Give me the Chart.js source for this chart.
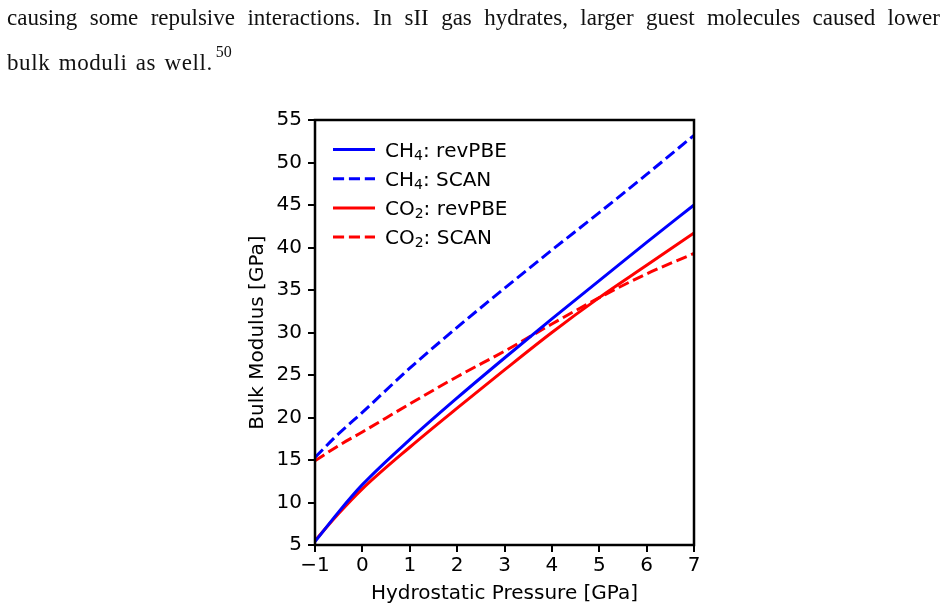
<!DOCTYPE html>
<html>
<head>
<meta charset="utf-8">
<script src="https://cdn.jsdelivr.net/npm/chart.js@4"></script>
<style>
  html, body { margin: 0; padding: 0; background: #fff; }
  body { width: 947px; height: 612px; position: relative; overflow: hidden; }
  #c { position: absolute; left: 0; top: 0; }
  .txt { position: absolute; font-family: "Liberation Serif", "DejaVu Serif", serif; font-size: 23px; line-height: 1; color: #111; white-space: nowrap; }
  #l1 { left: 7px; top: 6px; width: 933px; white-space: normal; text-align: justify; text-align-last: justify; }
  #l2 { left: 7px; top: 48px; letter-spacing: 0.6px; word-spacing: 2px; }
  #l2 sup { font-size: 16px; position: relative; top: -4px; left: 3px; letter-spacing: 0; }
</style>
</head>
<body>
<canvas id="c" width="947" height="612"></canvas>
<div class="txt" id="l1">causing some repulsive interactions. In sII gas hydrates, larger guest molecules caused lower</div>
<div class="txt" id="l2">bulk moduli as well.<sup>50</sup></div>
<script>
/* Bulk modulus vs hydrostatic pressure — CH4 / CO2 hydrates */
const pressure   = [-1, -0.5, 0, 1, 2, 3, 4, 5, 6, 7];          // GPa
const ch4RevPBE  = [5.4, 8.9, 12.1, 17.4, 22.3, 27.0, 31.6, 36.1, 40.6, 45.0];
const ch4SCAN    = [15.3, 18.1, 20.6, 25.8, 30.6, 35.2, 39.7, 44.1, 48.6, 53.2];
const co2RevPBE  = [5.5, 8.7, 11.6, 16.5, 21.1, 25.6, 30.0, 34.1, 37.9, 41.7];
const co2SCAN    = [14.9, 16.7, 18.3, 21.6, 24.8, 27.8, 31.0, 34.1, 36.9, 39.3];
const seriesLabels = ["CH₄: revPBE", "CH₄: SCAN", "CO₂: revPBE", "CO₂: SCAN"];
const xTitle = "Hydrostatic Pressure [GPa]";
const yTitle = "Bulk Modulus [GPa]";

const FONT = "DejaVu Sans";
const pts = ys => pressure.map((x, i) => ({ x, y: ys[i] }));

function ds(label, ys, color, dashed) {
  return {
    label, data: pts(ys),
    borderColor: color, backgroundColor: color,
    borderWidth: 3, borderDash: dashed ? [11.1, 4.8] : [],
    pointRadius: 0, cubicInterpolationMode: "monotone", fill: false,
  };
}

/* ── frame + matplotlib-ish legend ── */
const framePlugin = {
  id: "frame",
  afterDatasetsDraw(chart) {
    const { ctx, chartArea: a } = chart;
    ctx.save();
    ctx.strokeStyle = "#000"; ctx.lineWidth = 2.5;
    ctx.strokeRect(a.left, a.top, a.right - a.left, a.bottom - a.top);
    ctx.restore();
  },
  afterDraw(chart) {
    const { ctx } = chart;
    ctx.save();
    chart.data.datasets.forEach((d, i) => {
      const y = 149.5 + i * 29.2;
      ctx.strokeStyle = d.borderColor; ctx.lineWidth = d.borderWidth;
      ctx.setLineDash(d.borderDash);
      ctx.beginPath(); ctx.moveTo(333, y); ctx.lineTo(375, y); ctx.stroke();
      ctx.setLineDash([]);
      drawSubText(ctx, d.label, 385, y + 7);
    });
    ctx.restore();
  },
};

// draws "CH₄: revPBE" with the subscript digit smaller and lowered
function drawSubText(ctx, s, x, base) {
  const subs = { "₀": "0", "₁": "1", "₂": "2", "₃": "3", "₄": "4" };
  ctx.fillStyle = "#000"; ctx.textBaseline = "alphabetic"; ctx.textAlign = "left";
  for (const ch of s) {
    if (subs[ch]) {
      ctx.font = `14px "${FONT}"`;
      ctx.fillText(subs[ch], x, base + 3);
      x += ctx.measureText(subs[ch]).width;
    } else {
      ctx.font = `20px "${FONT}"`;
      ctx.fillText(ch, x, base);
      x += ctx.measureText(ch).width;
    }
  }
}

const tickFont = { family: FONT, size: 20 };
const gridOpts = { drawOnChartArea: false, drawTicks: true, tickLength: 7, color: "#000", lineWidth: 2 };

new Chart(document.getElementById("c"), {
  type: "line",
  data: {
    datasets: [
      ds(seriesLabels[0], ch4RevPBE, "#0000ff", false),
      ds(seriesLabels[1], ch4SCAN, "#0000ff", true),
      ds(seriesLabels[2], co2RevPBE, "#ff0000", false),
      ds(seriesLabels[3], co2SCAN, "#ff0000", true),
    ],
  },
  options: {
    responsive: false, animation: false, devicePixelRatio: 1,
    layout: { padding: { left: 245, right: 253, top: 120, bottom: 0 } },
    plugins: { legend: { display: false }, tooltip: { enabled: false } },
    scales: {
      x: {
        type: "linear", min: -1, max: 7,
        afterFit: s => { s.height = 67; },
        ticks: { stepSize: 1, color: "#000", font: tickFont, padding: 2,
          callback: v => (v < 0 ? "\u2212" + Math.abs(v) : String(v)) },
        grid: gridOpts, border: { display: false },
        title: { display: true, text: xTitle, color: "#000", font: tickFont, padding: { top: 0, bottom: 6 } },
      },
      y: {
        type: "linear", min: 5, max: 55,
        afterFit: s => { s.width = 70; },
        ticks: { stepSize: 5, color: "#000", font: tickFont, padding: 6 },
        grid: gridOpts, border: { display: false },
        title: { display: true, text: yTitle, color: "#000", font: tickFont, padding: { top: 1, bottom: 0 } },
      },
    },
  },
  plugins: [framePlugin],
});
</script>
</body>
</html>
